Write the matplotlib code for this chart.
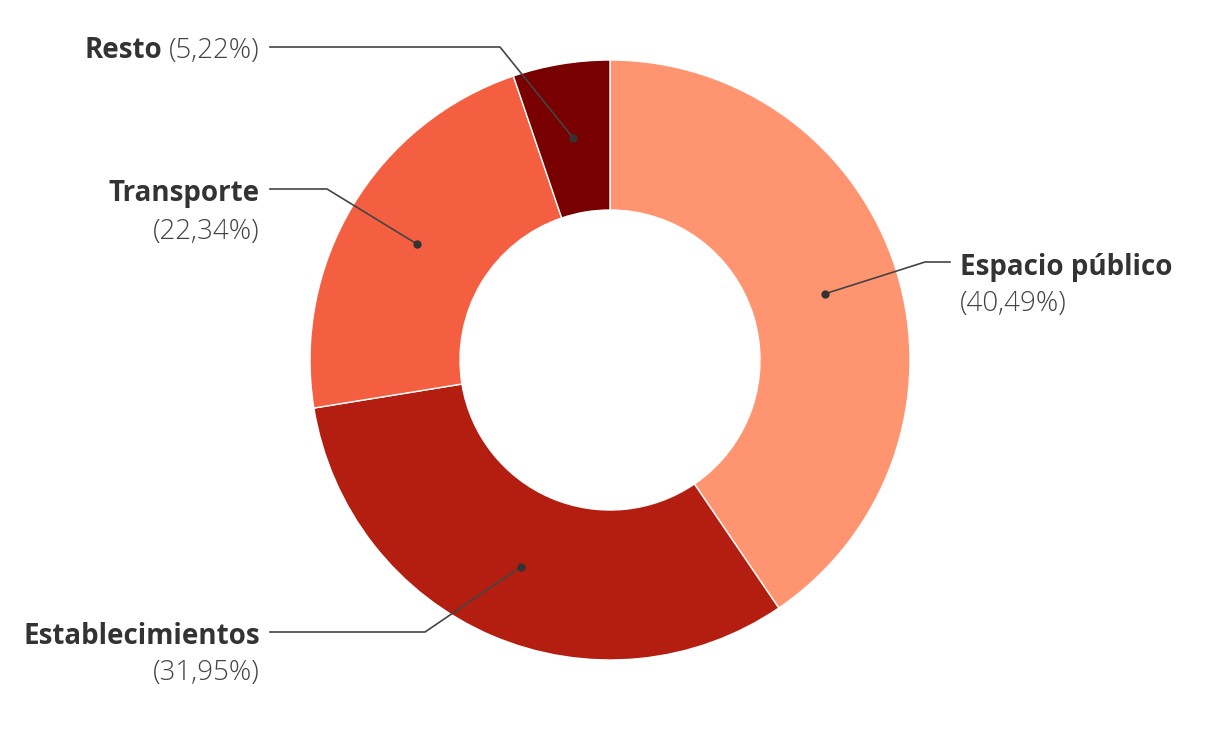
import matplotlib
matplotlib.use('Agg')
import matplotlib.pyplot as plt
import numpy as np

categories = ['Espacio público', 'Establecimientos', 'Transporte', 'Resto']
values = [40.49, 31.95, 22.34, 5.22]
pct_labels = ['(40,49%)', '(31,95%)', '(22,34%)', '(5,22%)']
colors = ['#ff9470', '#b41e11', '#f45f42', '#780000']

plt.rcParams['font.family'] = ['Open Sans', 'DejaVu Sans']

H = 740
fig = plt.figure(figsize=(12.2, 7.4), dpi=100)
ax = fig.add_axes([0, 0, 1, 1])

cx, cy, R, W = 610, H - 360, 300, 150
wedges, _ = ax.pie(values, colors=colors, startangle=90, counterclock=False,
                   radius=R, center=(cx, cy),
                   wedgeprops=dict(width=W, edgecolor='white', linewidth=1))
ax.set_xlim(0, 1220)
ax.set_ylim(0, H)
ax.set_aspect('equal')
ax.axis('off')

# label layout (pixel coords from top): elbow, line end, label y, pct y
layout = {
    'Espacio público': dict(elbow=(925, 262), end=950, side='right', ly=267, py=304),
    'Establecimientos': dict(elbow=(425, 632), end=270, side='left', ly=636, py=673),
    'Transporte': dict(elbow=(327, 189), end=270, side='left', ly=193, py=232),
    'Resto': dict(elbow=(500, 47), end=270, side='left', ly=51, py=None),
}

lab_col = '#333333'
pct_col = '#444444'
fs = 20

fig.canvas.draw()
renderer = fig.canvas.get_renderer()

for w, cat, pct in zip(wedges, categories, pct_labels):
    mid = np.deg2rad((w.theta1 + w.theta2) / 2)
    rm = R - W / 2
    dx, dy = cx + rm * np.cos(mid), cy + rm * np.sin(mid)
    lo = layout[cat]
    ex, ey = lo['elbow'][0], H - lo['elbow'][1]
    ax.plot([dx, ex, lo['end']], [dy, ey, ey], color='#444444', lw=1.2, zorder=3)
    ax.plot(dx, dy, 'o', color='#333333', ms=5, zorder=4)
    if lo['side'] == 'right':
        tx, ha = lo['end'] + 10, 'left'
    else:
        tx, ha = lo['end'] - 10, 'right'
    if lo['py'] is None:
        t = ax.text(tx, H - lo['ly'], pct, ha=ha, va='center', fontsize=fs,
                    fontweight='light', color=pct_col)
        bb = t.get_window_extent(renderer)
        ax.text(bb.x0 - 7, H - lo['ly'], cat, ha='right', va='center', fontsize=fs,
                fontweight='bold', color=lab_col)
    else:
        ax.text(tx, H - lo['ly'], cat, ha=ha, va='center', fontsize=fs,
                fontweight='bold', color=lab_col)
        ax.text(tx, H - lo['py'], pct, ha=ha, va='center', fontsize=fs,
                fontweight='light', color=pct_col)

fig.savefig('out.png', dpi=100, facecolor='white')
